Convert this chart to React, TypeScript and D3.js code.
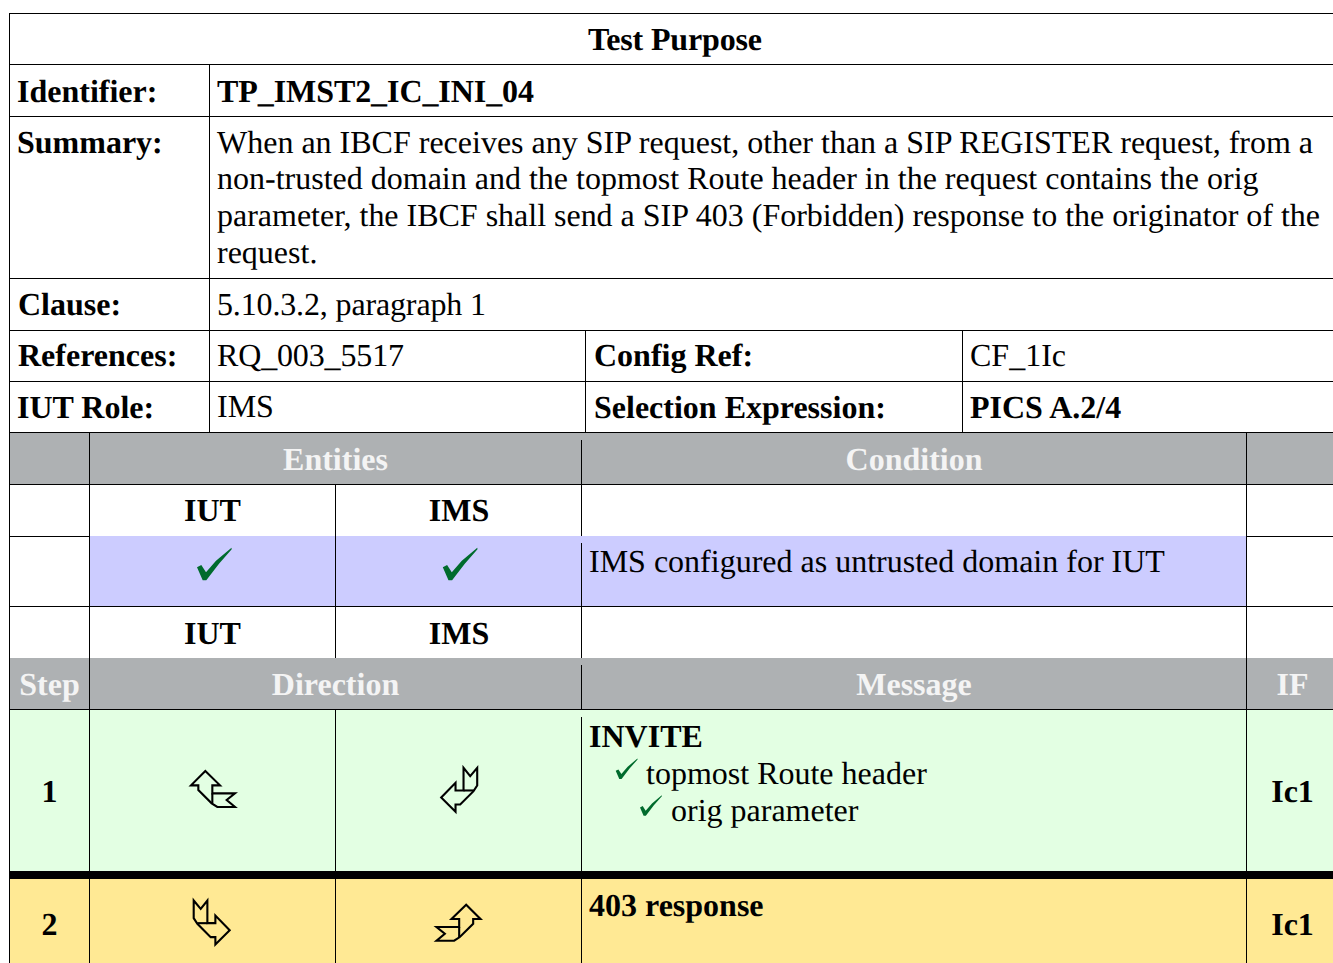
import React from 'react';
import * as d3 from 'd3';

const summaryLines = [
  'When an IBCF receives any SIP request, other than a SIP REGISTER request, from a',
  'non-trusted domain and the topmost Route header in the request contains the orig',
  'parameter, the IBCF shall send a SIP 403 (Forbidden) response to the originator of the',
  'request.',
];
const headerLabels = ['Identifier:', 'Summary:', 'Clause:', 'References:', 'IUT Role:'];
const headerValues = ['TP_IMST2_IC_INI_04', '5.10.3.2, paragraph 1', 'RQ_003_5517', 'IMS'];
const configLabels = ['Config Ref:', 'Selection Expression:'];
const configValues = ['CF_1Ic', 'PICS A.2/4'];
const entities = ['IUT', 'IMS'];
const stepNumbers = ['1', '2'];
const stepInterfaces = ['Ic1', 'Ic1'];

// row borders of the sheet
const rowEdges = [13, 64, 116, 278, 330, 381, 432, 484, 536, 606, 658, 709, 875, 963];
const x = d3.scaleOrdinal<string, number>()
  .domain(['left', 'label', 'value', 'mid', 'right', 'step', 'e1', 'e2', 'cond', 'iface'])
  .range([9, 209, 217, 585, 962, 89, 335, 581, 589, 1246]);

const FONT = '"Liberation Serif", serif';
const LINE = '#000';
const GREY = '#aeb1b3';
const GREEN = '#006b2d';
const HEAD_TEXT = '#f4f4f4';

// arrow glyph outline, head up and tail to the right
const arrowOutline: [number, number][] = [
  [-7.67, -18], [7, -3.67], [-0.67, -3.67], [-0.67, 4.33], [22, 4.33], [13.67, 11],
  [22, 18], [4.33, 18], [-1.33, 14.33], [-14.67, 1], [-14.67, -3.67], [-22, -3.67],
];
const arrowInner: [number, number][] = [[-0.67, 4.33], [-0.67, 14.33]];
const checkOutline: [number, number][] = [
  [0, -13.4], [4.3, -15.7], [9, -8.4], [19, -20], [34.5, -33], [34.7, -31.5], [22, -17], [9.3, -0.5], [5.7, -0.5],
];

const closed = d3.line().curve(d3.curveLinearClosed);
const open = d3.line();

const Arrow = ({ cx, cy, transform }: { cx: number; cy: number; transform: string }) => (
  <g
    transform={`translate(${cx} ${cy}) ${transform}`}
    fill="none"
    stroke="#000"
    strokeWidth={2.1}
    shapeRendering="geometricPrecision"
  >
    <path d={closed(arrowOutline) || ''} />
    <path d={open(arrowInner) || ''} />
  </g>
);

const Check = ({ px, py, k = 1 }: { px: number; py: number; k?: number }) => (
  <path
    transform={`translate(${px} ${py}) scale(${k})`}
    d={closed(checkOutline) || ''}
    fill={GREEN}
    shapeRendering="geometricPrecision"
  />
);

// w pins the run width where the reference set the line slightly tighter
const T = ({ px, py, bold, anchor, fill, w, children }: any) => (
  <text
    x={px}
    y={py}
    fontWeight={bold ? 'bold' : 'normal'}
    textAnchor={anchor || 'start'}
    fill={fill || '#000'}
    textLength={w}
    lengthAdjust={w ? 'spacing' : undefined}
  >
    {children}
  </text>
);

const Band = ({ x0, x1, y0, y1, fill }: { x0: number; x1: number; y0: number; y1: number; fill: string }) => (
  <rect x={x0} y={y0} width={x1 - x0} height={y1 - y0} fill={fill} />
);

const VLine = ({ at, y0, y1 }: { at: number; y0: number; y1: number }) => (
  <line x1={at} x2={at} y1={y0} y2={y1} stroke={LINE} strokeWidth={1} />
);

const App = () => {
  const W = 1333;
  const [stepX, e1X, e2X, ifX] = [x('step'), x('e1'), x('e2'), x('iface')] as number[];
  const leftX = x('left') as number;
  const e1Mid = (stepX + e1X) / 2 + 0.5;
  const e2Mid = (e1X + e2X) / 2 + 1;
  const condMid = (e2X + ifX) / 2 + 0.5;
  const dirMid = (stepX + e2X) / 2 + 0.5;
  const stepMid = (leftX + stepX) / 2 + 0.5;
  const ifMid = 1292.5;
  const fullRows = [13, 64, 116, 278, 330, 381, 432, 484, 606, 709];

  return (
    <svg
      width={W}
      height={963}
      style={{ position: 'absolute', left: 0, top: 0 }}
      fontFamily={FONT}
      fontSize={32}
      shapeRendering="crispEdges"
      textRendering="geometricPrecision"
    >
      <rect width={W} height={963} fill="#fff" />

      <Band x0={leftX} x1={W} y0={rowEdges[6]} y1={rowEdges[7]} fill={GREY} />
      <Band x0={stepX} x1={ifX} y0={rowEdges[8]} y1={rowEdges[9]} fill="#ccccff" />
      <Band x0={leftX} x1={W} y0={rowEdges[10]} y1={rowEdges[11]} fill={GREY} />
      <Band x0={leftX} x1={W} y0={rowEdges[11]} y1={rowEdges[12]} fill="#e3ffe3" />
      <Band x0={leftX} x1={W} y0={rowEdges[12]} y1={rowEdges[13]} fill="#ffe994" />

      {fullRows.map((r) => (
        <line key={r} x1={leftX} x2={W} y1={r + 0.5} y2={r + 0.5} stroke={LINE} />
      ))}
      <line x1={leftX} x2={stepX} y1={536.5} y2={536.5} stroke={LINE} />
      <line x1={ifX} x2={W} y1={536.5} y2={536.5} stroke={LINE} />
      <rect x={leftX} y={871} width={W - leftX} height={8} fill="#000" />

      <VLine at={leftX + 0.5} y0={13} y1={963} />
      <VLine at={209.5} y0={64} y1={432} />
      <VLine at={585.5} y0={330} y1={432} />
      <VLine at={962.5} y0={330} y1={432} />
      <VLine at={stepX + 0.5} y0={432} y1={963} />
      <VLine at={e1X + 0.5} y0={484} y1={658} />
      <VLine at={e1X + 0.5} y0={709} y1={963} />
      <VLine at={ifX + 0.5} y0={432} y1={963} />
      <VLine at={e2X + 0.5} y0={440} y1={536} />
      <VLine at={e2X + 0.5} y0={543} y1={658} />
      <VLine at={e2X + 0.5} y0={665} y1={709} />
      <VLine at={e2X + 0.5} y0={717} y1={871} />
      <VLine at={e2X + 0.5} y0={879} y1={963} />

      <T px={588} py={50} bold w={174}>Test Purpose</T>
      <T px={17} py={102} bold>{headerLabels[0]}</T>
      <T px={217} py={102} bold w={317}>{headerValues[0]}</T>
      <T px={17} py={153} bold>{headerLabels[1]}</T>
      {summaryLines.map((l, i) => (
        <T key={i} px={217} py={[153, 189, 226, 263][i]} w={i === 2 ? 1103 : undefined}>{l}</T>
      ))}
      <T px={18} py={315} bold>{headerLabels[2]}</T>
      <T px={217} py={315} w={269}>{headerValues[1]}</T>
      <T px={18} py={366} bold>{headerLabels[3]}</T>
      <T px={217} py={366} w={187}>{headerValues[2]}</T>
      <T px={594} py={366} bold>{configLabels[0]}</T>
      <T px={970} py={366}>{configValues[0]}</T>
      <T px={17} py={418} bold>{headerLabels[4]}</T>
      <T px={217} py={417}>{headerValues[3]}</T>
      <T px={594} py={418} bold>{configLabels[1]}</T>
      <T px={970} py={418} bold>{configValues[1]}</T>

      <T px={dirMid} py={470} bold anchor="middle" fill={HEAD_TEXT}>Entities</T>
      <T px={condMid} py={470} bold anchor="middle" fill={HEAD_TEXT}>Condition</T>
      {[521, 644].map((py) => (
        <g key={py}>
          <T px={e1Mid} py={py} bold anchor="middle">{entities[0]}</T>
          <T px={e2Mid} py={py} bold anchor="middle">{entities[1]}</T>
        </g>
      ))}
      <Check px={197} py={580.7} />
      <Check px={442.8} py={580.7} />
      <T px={589} py={572}>IMS configured as untrusted domain for IUT</T>

      <T px={stepMid} py={695} bold anchor="middle" fill={HEAD_TEXT}>Step</T>
      <T px={dirMid} py={695} bold anchor="middle" fill={HEAD_TEXT}>Direction</T>
      <T px={condMid} py={695} bold anchor="middle" fill={HEAD_TEXT}>Message</T>
      <T px={ifMid} py={695} bold anchor="middle" fill={HEAD_TEXT}>IF</T>

      <T px={stepMid} py={802} bold anchor="middle">{stepNumbers[0]}</T>
      <Arrow cx={213} cy={789} transform="" />
      <Arrow cx={459.2} cy={789.8} transform="rotate(-90)" />
      <T px={589} py={746.5} bold>INVITE</T>
      <Check px={615.7} py={779.3} k={0.63} />
      <T px={646} py={783.5}>topmost Route header</T>
      <Check px={640} py={816} k={0.63} />
      <T px={671} py={820.5}>orig parameter</T>
      <T px={ifMid} py={802} bold anchor="middle">{stepInterfaces[0]}</T>

      <T px={stepMid} py={935} bold anchor="middle">{stepNumbers[1]}</T>
      <Arrow cx={211.7} cy={922.5} transform="scale(-1 1) rotate(-90)" />
      <Arrow cx={458.5} cy={922.7} transform="scale(-1 1)" />
      <T px={589} py={916} bold>403 response</T>
      <T px={ifMid} py={935} bold anchor="middle">{stepInterfaces[1]}</T>
    </svg>
  );
};

export default App;
